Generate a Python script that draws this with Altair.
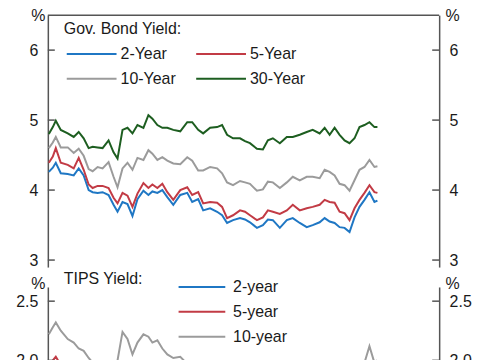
import altair as alt
import pandas as pd

# ---------------- data ----------------
days = [0, 4, 7, 12, 19, 25, 30, 35, 40, 44, 49, 54, 60, 65, 69, 74, 79, 84, 89, 95,
        100, 104, 109, 114, 119, 125, 132, 139, 144, 150, 155, 162, 169, 174, 179, 185,
        192, 197, 202, 209, 215, 220, 225, 232, 239, 245, 252, 259, 265, 272, 277, 282,
        287, 292, 297, 302, 307, 312, 317, 322, 327, 330]

gov_2y = [4.26, 4.32, 4.39, 4.24, 4.23, 4.21, 4.31, 4.21, 4.00, 3.97, 3.96, 3.97, 3.93, 3.79,
          3.69, 3.83, 3.80, 3.63, 3.87, 3.99, 3.93, 3.98, 3.96, 4.00, 3.90, 3.79, 3.93, 3.96,
          3.83, 3.87, 3.71, 3.74, 3.69, 3.64, 3.53, 3.57, 3.60, 3.58, 3.54, 3.46, 3.50, 3.58,
          3.57, 3.46, 3.57, 3.60, 3.53, 3.47, 3.50, 3.54, 3.60, 3.55, 3.53, 3.47, 3.46, 3.40,
          3.61, 3.76, 3.86, 3.97, 3.83, 3.85]
gov_5y = [4.39, 4.48, 4.60, 4.39, 4.36, 4.31, 4.46, 4.29, 4.08, 4.03, 4.06, 4.06, 4.03, 3.89,
          3.81, 3.96, 3.92, 3.76, 3.95, 4.10, 4.03, 4.08, 4.03, 4.09, 3.97, 3.86, 4.00, 4.04,
          3.93, 3.97, 3.81, 3.83, 3.82, 3.76, 3.60, 3.64, 3.71, 3.69, 3.64, 3.57, 3.61, 3.71,
          3.69, 3.66, 3.71, 3.79, 3.71, 3.74, 3.76, 3.79, 3.86, 3.83, 3.82, 3.69, 3.67, 3.57,
          3.74, 3.86, 3.96, 4.07, 3.97, 3.96]
gov_10y = [4.60, 4.68, 4.76, 4.61, 4.61, 4.53, 4.59, 4.49, 4.30, 4.27, 4.33, 4.31, 4.40, 4.19,
           4.04, 4.31, 4.39, 4.29, 4.46, 4.43, 4.57, 4.52, 4.43, 4.47, 4.42, 4.38, 4.37, 4.47,
           4.42, 4.28, 4.28, 4.33, 4.31, 4.24, 4.11, 4.07, 4.13, 4.11, 4.09, 3.99, 4.01, 4.12,
           4.11, 4.03, 4.11, 4.19, 4.14, 4.19, 4.19, 4.17, 4.29, 4.26, 4.21, 4.09, 4.07, 3.99,
           4.14, 4.29, 4.33, 4.43, 4.33, 4.34]
gov_30y = [4.80, 4.90, 4.99, 4.86, 4.81, 4.76, 4.83, 4.74, 4.60, 4.62, 4.61, 4.60, 4.71, 4.54,
           4.45, 4.86, 4.89, 4.81, 4.93, 4.89, 5.07, 5.02, 4.93, 4.89, 4.89, 4.86, 4.84, 4.97,
           4.97, 4.86, 4.81, 4.89, 4.90, 4.93, 4.79, 4.74, 4.74, 4.70, 4.67, 4.59, 4.58, 4.71,
           4.74, 4.67, 4.76, 4.76, 4.79, 4.83, 4.86, 4.81, 4.89, 4.79, 4.89, 4.79, 4.71, 4.67,
           4.74, 4.90, 4.93, 4.97, 4.90, 4.90]

tips_2y = [1.75, 1.82, 1.88, 1.78, 1.72, 1.66, 1.70, 1.60, 1.45, 1.40, 1.36, 1.38, 1.33, 1.22,
           1.12, 1.30, 1.28, 1.15, 1.30, 1.40, 1.35, 1.38, 1.35, 1.38, 1.28, 1.20, 1.30, 1.32,
           1.22, 1.24, 1.12, 1.15, 1.10, 1.05, 0.95, 0.98, 1.02, 1.00, 0.96, 0.88, 0.92, 0.98,
           0.95, 0.88, 0.95, 0.98, 0.92, 0.88, 0.90, 0.94, 0.98, 0.95, 0.93, 0.88, 0.86, 0.80,
           0.98, 1.10, 1.18, 1.28, 1.18, 1.20]
tips_5y = [1.95, 2.00, 2.03, 1.96, 1.90, 1.85, 1.88, 1.80, 1.68, 1.64, 1.62, 1.63, 1.60, 1.52,
           1.46, 1.62, 1.60, 1.50, 1.62, 1.70, 1.68, 1.66, 1.64, 1.66, 1.58, 1.52, 1.58, 1.60,
           1.52, 1.50, 1.42, 1.44, 1.42, 1.38, 1.30, 1.30, 1.34, 1.32, 1.30, 1.25, 1.27, 1.32,
           1.30, 1.26, 1.30, 1.35, 1.30, 1.30, 1.32, 1.33, 1.38, 1.36, 1.34, 1.26, 1.24, 1.18,
           1.30, 1.40, 1.46, 1.55, 1.47, 1.48]
tips_10y = [2.22, 2.28, 2.32, 2.25, 2.18, 2.15, 2.10, 2.08, 2.02, 1.98, 1.95, 1.97, 1.94, 1.96,
            2.00, 2.24, 2.18, 2.05, 2.15, 2.22, 2.20, 2.15, 2.17, 2.10, 2.05, 2.02, 2.03, 1.97,
            1.93, 1.90, 1.88, 1.90, 1.87, 1.85, 1.80, 1.78, 1.82, 1.80, 1.79, 1.74, 1.76, 1.80,
            1.80, 1.76, 1.80, 1.85, 1.82, 1.85, 1.85, 1.84, 1.90, 1.88, 1.86, 1.80, 1.78, 1.74,
            1.85, 1.95, 1.98, 2.12, 1.98, 2.00]

gov_labels = ["2-Year", "5-Year", "10-Year", "30-Year"]
tips_labels = ["2-year", "5-year", "10-year"]
gov_ticks = [3, 4, 5, 6]
tips_ticks = [0.5, 1.0, 1.5, 2.0, 2.5]

# ---------------- styling ----------------
COLOR_OF = {"2-Year": "#1f77c4", "5-Year": "#c23b45", "10-Year": "#9b9b9b", "30-Year": "#1d5e20",
            "2-year": "#1f77c4", "5-year": "#c23b45", "10-year": "#9b9b9b"}
# legend fills column by column: order so that rows read 2/5 then 10/30
GOV_LEGEND_ORDER = ["2-Year", "10-Year", "5-Year", "30-Year"]
FONT = "Liberation Sans"
TXT = "#1a1a1a"
AX = "#555555"
W = 393
H_TOP = 253
H_BOT = 252
X_DOMAIN = [-1, 392]
GOV_DOMAIN = [2.9, 6.5]
TIPS_DOMAIN = [0.5, 2.62]
LINE_SYMBOL = "M-1,0H9"   # long horizontal stroke starting at the entry origin


def long_df(series, labels, name):
    rows = []
    for lab, vals in zip(labels, series):
        for d, v in zip(days, vals):
            rows.append({"day": d, "value": v, name: lab})
    return pd.DataFrame(rows)


def panel(df, field, order, ticks, domain, height, legend, fmt, pct_y, border):
    yscale = alt.Scale(domain=domain, nice=False, zero=False)
    lines = alt.Chart(df).mark_line(strokeWidth=2, clip=True).encode(
        x=alt.X("day:Q", scale=alt.Scale(domain=X_DOMAIN, nice=False, zero=False), axis=None),
        y=alt.Y("value:Q", scale=yscale, axis=None),
        color=alt.Color(f"{field}:N",
                        scale=alt.Scale(domain=order, range=[COLOR_OF[k] for k in order]),
                        sort=order, legend=legend),
    )
    tick_df = pd.DataFrame({"v": ticks})
    axis_common = dict(
        values=ticks, format=fmt, tickSize=0, labelPadding=10, labelFontSize=16,
        labelFont=FONT, labelColor=TXT, domainColor=AX, domainWidth=1.5, grid=False,
        title="%", titleAngle=0, titleFontSize=16, titleFont=FONT, titleFontWeight="normal",
        titleColor=TXT, titleY=pct_y, titleBaseline="middle", titleAlign="center",
    )
    left = alt.Chart(tick_df).mark_rule(color=AX, strokeWidth=1.5).encode(
        y=alt.Y("v:Q", scale=yscale, axis=alt.Axis(orient="left", titleX=-10, **axis_common)),
        x=alt.value(0), x2=alt.value(7),
    )
    right = alt.Chart(tick_df).mark_rule(color=AX, strokeWidth=1.5).encode(
        y=alt.Y("v:Q", scale=yscale, axis=alt.Axis(orient="right", titleX=13, **axis_common)),
        x=alt.value(W - 7), x2=alt.value(W),
    )
    layers = [lines, left, right]
    if border:
        top = alt.Chart(pd.DataFrame({"v": [0]})).mark_rule(color=AX, strokeWidth=1.5).encode(
            y=alt.value(0), x=alt.value(0), x2=alt.value(W)
        )
        layers.append(top)
    return alt.layer(*layers).resolve_axis(y="independent").properties(width=W, height=height)


legend_common = dict(
    orient="none", titleFont=FONT, titleFontSize=16, titleFontWeight="normal",
    titleColor=TXT, labelFont=FONT, labelFontSize=16, labelColor=TXT,
    symbolType=LINE_SYMBOL, symbolStrokeWidth=2, padding=0, rowPadding=9,
)

gov_legend = alt.Legend(title="Gov. Bond Yield:", legendX=16, legendY=6, columns=2,
                        symbolSize=100, labelOffset=41, columnPadding=16, titlePadding=9,
                        **legend_common)
tips_legend = alt.Legend(title="TIPS Yield:", legendX=16, legendY=-8, columns=1,
                         symbolSize=88, labelOffset=42, titleOrient="left",
                         titleAnchor="start", titlePadding=32, titleBaseline="middle",
                         **legend_common)

gov_df = long_df([gov_2y, gov_5y, gov_10y, gov_30y], gov_labels, "series")
tips_df = long_df([tips_2y, tips_5y, tips_10y], tips_labels, "tips")

top_panel = panel(gov_df, "series", GOV_LEGEND_ORDER, gov_ticks, GOV_DOMAIN, H_TOP,
                  gov_legend, "d", 0, True)
bottom_panel = panel(tips_df, "tips", tips_labels, tips_ticks, TIPS_DOMAIN, H_BOT,
                     tips_legend, ".1f", -3, False)

chart = alt.vconcat(top_panel, bottom_panel, spacing=20, bounds="flush").resolve_scale(
    color="independent"
).resolve_legend(color="independent").configure_view(stroke=None).properties(
    padding={"left": 7, "top": -2, "right": 5, "bottom": 5}, background="white"
)

chart.save("out.html", embed_options={"renderer": "svg", "actions": False})
